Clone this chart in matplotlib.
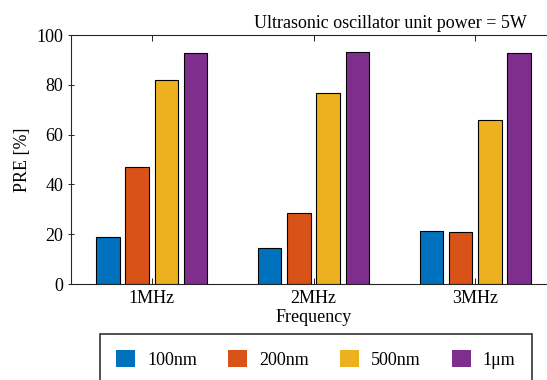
import numpy as np
import matplotlib
matplotlib.use('Agg')
import matplotlib.pyplot as plt

plt.rcParams['font.family'] = ['Liberation Serif', 'DejaVu Serif']
plt.rcParams['font.size'] = 13

# PRE [%]
freqs = ['1MHz', '2MHz', '3MHz']
sizes = ['100nm', '200nm', '500nm', '1\u03bcm']
pre_100nm = [18.8, 14.3, 21.1]
pre_200nm = [47.0, 28.7, 20.7]
pre_500nm = [81.8, 76.6, 66.0]
pre_1um = [93.0, 93.4, 92.9]
colors = ['#0072BD', '#D95319', '#EDB120', '#7E2F8E']

series = [pre_100nm, pre_200nm, pre_500nm, pre_1um]

fig = plt.figure(figsize=(5.47, 3.80), dpi=100)
ax = fig.add_axes([0.1298, 0.2526, 0.8867, 0.655])

x = np.arange(1, len(freqs) + 1)
pitch = 0.181
width = 0.145
for i, vals in enumerate(series):
    ax.bar(x + (i - 1.5) * pitch, vals, width, color=colors[i],
           edgecolor='black', linewidth=0.8, label=sizes[i])

ax.set_xlim(0.5, 3.5)
ax.set_ylim(0, 100)
ax.set_xticks(x)
ax.set_xticklabels(freqs)
ax.set_yticks([0, 20, 40, 60, 80, 100])
ax.tick_params(direction='in', top=True, right=True, length=4, width=0.6, pad=4)
ax.tick_params(axis='y', direction='inout', length=5, pad=3)
for s in ax.spines.values():
    s.set_linewidth(0.8)
    s.set_color('#262626')
ax.set_xlabel('Frequency', labelpad=2)
ax.set_ylabel('PRE [%]', labelpad=4)

fig.text(527 / 547, 1 - 28 / 380, 'Ultrasonic oscillator unit power = 5W',
         ha='right', va='baseline')

leg = fig.legend(loc='upper center', bbox_to_anchor=(316 / 547, 1 - 334 / 380),
                 ncol=4, frameon=True, fancybox=False, edgecolor='black',
                 handlelength=1.05, handleheight=1.04, handletextpad=0.68,
                 columnspacing=1.7, borderpad=0.9, borderaxespad=0)
leg.get_frame().set_linewidth(1.2)
for h in leg.legend_handles:
    h.set_edgecolor('none')

fig.savefig('out.png', dpi=100)
